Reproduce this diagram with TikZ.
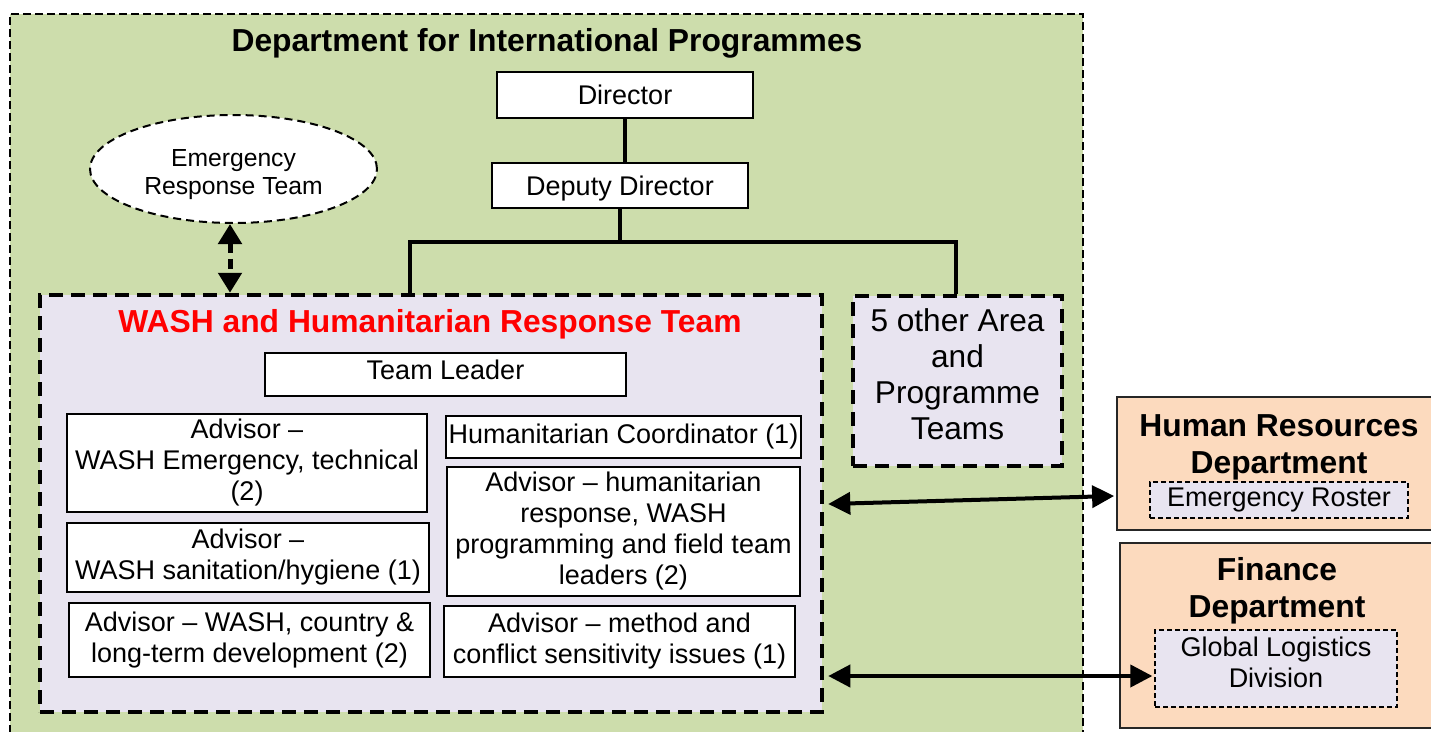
\documentclass[tikz,border=0pt]{standalone}
\usepackage{fontspec}
\setmainfont{Liberation Sans}
\usetikzlibrary{arrows.meta,shapes.geometric}
\definecolor{deptgreen}{RGB}{205,221,172}
\definecolor{lav}{RGB}{232,228,240}
\definecolor{peach}{RGB}{252,218,190}
\definecolor{washred}{RGB}{255,0,0}
\tikzset{
  stdbox/.style={draw=black, line width=1.8pt, fill=white, inner sep=0pt, align=center,
    font=\fontsize{27}{31}\selectfont},
  teambox/.style={draw=black, line width=4.5pt, dash pattern=on 14pt off 8pt, fill=lav, inner sep=0pt},
  extbox/.style={draw=black!85, line width=1.8pt, fill=peach, inner sep=0pt},
  subbox/.style={draw=black, line width=1.3pt, dash pattern=on 5pt off 3pt, fill=lav, inner sep=0pt,
    align=center, font=\fontsize{27}{31}\selectfont},
  titletext/.style={font=\bfseries\fontsize{31.8}{37}\selectfont, align=center, inner sep=0pt},
  orgline/.style={line width=4pt},
  dblarrow/.style={line width=4pt, {Triangle[width=22pt,length=22pt]}-{Triangle[width=22pt,length=22pt]}}
}
\begin{document}
\begin{tikzpicture}[x=1pt,y=-1pt]
\useasboundingbox (0,0) rectangle (1431,731);
\begin{scope}
\clip (0,0) rectangle (1431,731);
% Department container
\fill[deptgreen] (10,14) rectangle (1083,745);
\draw[line width=1.3pt, dash pattern=on 8pt off 4pt] (10,745) -- (10,14) -- (1083,14) -- (1083,745);
\node[titletext] (depttitle) at (547,43) {Department for International Programmes};

% Director chain
\node[stdbox, minimum width=256pt, minimum height=46pt] (dir) at (625,95) {Director};
\node[stdbox, minimum width=256pt, minimum height=45pt, text depth=0pt] (dep) at (620,185.5) {Deputy Director};

% Emergency response team
\node[ellipse, draw=black, line width=2pt, dash pattern=on 8pt off 5pt, fill=white,
  minimum width=287pt, minimum height=108pt, inner sep=0pt, align=center, text height=56pt,
  font=\fontsize{24.7}{28}\selectfont] (ert) at (233.5,169) {Emergency\\Response Team};

% WASH team
\node[teambox, minimum width=782pt, minimum height=417pt] (wash) at (431,503.5) {};
\node[titletext, text=washred] (washtitle) at (430,324) {WASH and Humanitarian Response Team};
\node[stdbox, minimum width=361pt, minimum height=43pt, text depth=10pt] (tl) at (445.5,374.5) {Team Leader};
\node[stdbox, minimum width=360pt, minimum height=98pt] (a1) at (247,463) {Advisor --\\WASH Emergency, technical\\(2)};
\node[stdbox, minimum width=362pt, minimum height=69pt] (a2) at (248,557.5) {Advisor --\\WASH sanitation/hygiene (1)};
\node[stdbox, minimum width=361pt, minimum height=74pt] (a3) at (249.5,640) {Advisor -- WASH, country \&\\long-term development (2)};
\node[stdbox, minimum width=355pt, minimum height=42pt] (hc) at (623.5,437) {Humanitarian Coordinator (1)};
\node[stdbox, minimum width=353pt, minimum height=129pt] (a4) at (623.5,531.5) {Advisor -- humanitarian\\response, WASH\\programming and field team\\leaders (2)};
\node[stdbox, minimum width=351pt, minimum height=71pt] (a5) at (619.5,641.5) {Advisor -- method and\\conflict sensitivity issues (1)};

% 5 other teams
\node[teambox, minimum width=209pt, minimum height=170pt, align=center, text depth=14pt,
  font=\fontsize{31.6}{36}\selectfont] (other) at (957.5,381) {5 other Area\\and\\Programme\\Teams};

% org connectors
\coordinate (jl) at (410,242);
\coordinate (jr) at (956,242);
\draw[orgline] (dir.south) -- (dir.south |- dep.north);
\draw[orgline] (dep.south) -- (dep.south |- jl);
\draw[orgline, line cap=rect] (jl) -- (jr);
\draw[orgline] (jl) -- (jl |- wash.north);
\draw[orgline] (jr) -- (jr |- other.north);

% ERT arrow
\draw[line width=5pt, dash pattern=on 10pt off 6pt,
  {Triangle[width=23pt,length=20pt]}-{Triangle[width=23pt,length=20pt]}]
  ([xshift=-3.5pt]ert.south) -- ([xshift=-3.5pt]ert.south |- wash.north);

% HR department
\node[extbox, minimum width=323pt, minimum height=133pt] (hr) at (1278.5,463.5) {};
\node[titletext] (hrtitle) at (1279,447) {Human Resources\\Department};
\node[subbox, minimum width=258pt, minimum height=36pt] (roster) at (1279,500) {Emergency Roster};

% Finance department
\node[extbox, minimum width=320pt, minimum height=185pt] (fin) at (1280,635.5) {};
\node[titletext] (fintitle) at (1277,591) {Finance\\Department};
\node[subbox, minimum width=242pt, minimum height=77pt, text depth=12pt] (gld) at (1276,668.5) {Global Logistics\\Division};

% cross-department arrows
\draw[dblarrow] ([shift={(4pt,-4pt)}]wash.east |- roster.center) -- ([shift={(-2pt,4pt)}]hr.west |- roster.center);
\draw[dblarrow] ([shift={(4pt,-7.5pt)}]wash.east |- gld.center) -- ([shift={(-2pt,-7.5pt)}]gld.west);
\end{scope}
\end{tikzpicture}
\end{document}
